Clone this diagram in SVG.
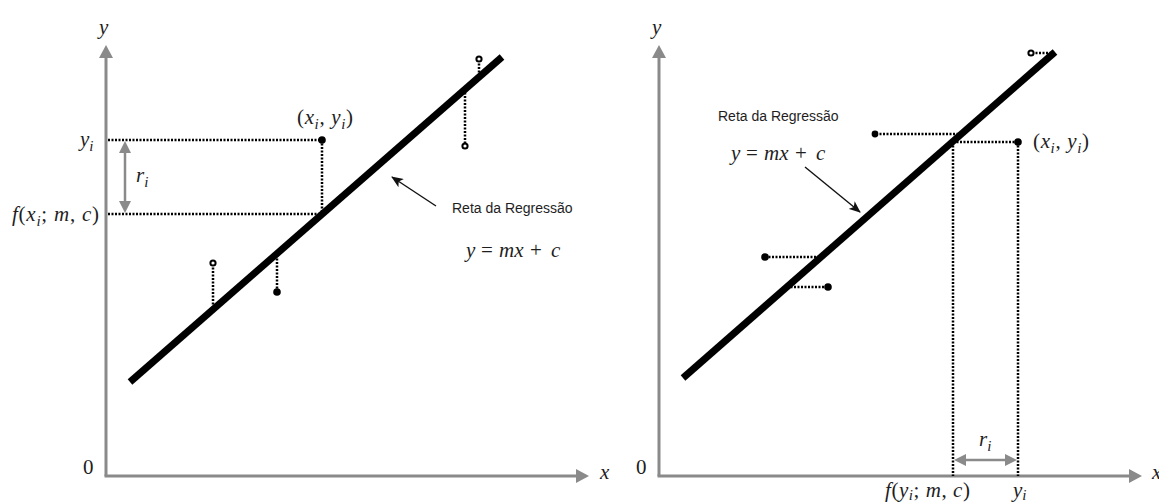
<svg xmlns="http://www.w3.org/2000/svg" width="1159" height="504" viewBox="0 0 1159 504">
<style>
.axis{stroke:#8a8a8a;stroke-width:3;fill:none}
.reg{stroke:#000;stroke-width:7;fill:none}
.dot{stroke:#000;stroke-width:2.5;stroke-dasharray:2 1.5;fill:none}
.dim{stroke:#8a8a8a;stroke-width:2.5;fill:none}
.ptr{stroke:#111;stroke-width:1.4;fill:none}
.m{font-family:"Liberation Serif","DejaVu Serif",serif;font-size:21px;fill:#1e1e1e}
.i{font-style:italic}
.s{font-size:15px}
.lbl{font-family:"Liberation Sans","DejaVu Sans",sans-serif;font-size:14px;fill:#1e1e1e}
.fill{fill:#000}
.open{fill:#fff;stroke:#000;stroke-width:2}
</style>
<defs>
<marker id="ah" markerWidth="12" markerHeight="10" refX="11" refY="5" orient="auto" markerUnits="userSpaceOnUse">
<path d="M0,0 L12,5 L0,10 L3,5 Z" fill="#111"/>
</marker>
</defs>

<g id="left-panel">
<g id="left-axes">
<line class="axis" x1="106" y1="476" x2="106" y2="58"/>
<polygon points="99,58 113,58 106,45" fill="#8a8a8a"/>
<line class="axis" x1="104.5" y1="476" x2="576" y2="476"/>
<polygon points="576,469 576,483 589,476" fill="#8a8a8a"/>
</g>
<g id="left-regression">
<line class="reg" x1="130" y1="382" x2="502" y2="57"/>
</g>
<g id="left-residuals">
<line class="dot" x1="108" y1="140" x2="322" y2="140"/>
<line class="dot" x1="108" y1="214" x2="322" y2="214"/>
<line class="dot" x1="322" y1="140" x2="322" y2="214"/>
<line class="dot" x1="479" y1="60" x2="479" y2="77"/>
<line class="dot" x1="465" y1="89" x2="465" y2="146"/>
<line class="dot" x1="213" y1="264" x2="213" y2="310"/>
<line class="dot" x1="277" y1="255" x2="277" y2="291"/>
</g>
<g id="left-points">
<circle class="fill" cx="322" cy="140" r="3.8"/>
<circle class="open" cx="479" cy="59" r="2.6"/>
<circle class="open" cx="465" cy="146" r="2.6"/>
<circle class="open" cx="213" cy="263" r="2.6"/>
<circle class="fill" cx="277" cy="292" r="3.8"/>
</g>
<g id="left-ri">
<line class="dim" x1="125" y1="153" x2="125" y2="201"/>
<polygon points="119,153 131,153 125,141" fill="#8a8a8a"/>
<polygon points="119,201 131,201 125,213" fill="#8a8a8a"/>
</g>
<g id="left-pointer">
<line class="ptr" x1="436" y1="206" x2="392" y2="177" marker-end="url(#ah)"/>
</g>
<g id="left-labels">
<text class="m i" x="99" y="34">y</text>
<text class="m" x="80" y="146"><tspan class="i">y</tspan><tspan class="i s" dy="5">i</tspan></text>
<text class="m" x="136" y="182"><tspan class="i">r</tspan><tspan class="i s" dy="5">i</tspan></text>
<text class="m" x="12" y="221" textLength="87" lengthAdjust="spacing"><tspan class="i">f</tspan>(<tspan class="i">x</tspan><tspan class="i s" dy="5">i</tspan><tspan dy="-5">; </tspan><tspan class="i">m</tspan>, <tspan class="i">c</tspan>)</text>
<text class="m" x="297" y="124" textLength="56" lengthAdjust="spacing">(<tspan class="i">x</tspan><tspan class="i s" dy="5">i</tspan><tspan dy="-5">, </tspan><tspan class="i">y</tspan><tspan class="i s" dy="5">i</tspan><tspan dy="-5">)</tspan></text>
<text class="lbl" x="452" y="213">Reta da Regressão</text>
<text class="m" y="257"><tspan class="i" x="466">y</tspan><tspan x="481">=</tspan><tspan class="i" x="499">mx</tspan><tspan x="530">+</tspan><tspan class="i" x="551">c</tspan></text>
<text class="m" x="83" y="474" font-size="17">0</text>
<text class="m i" x="600" y="479">x</text>
</g>
</g>

<g id="right-panel">
<g id="right-axes">
<line class="axis" x1="659" y1="476" x2="659" y2="58"/>
<polygon points="652,58 666,58 659,45" fill="#8a8a8a"/>
<line class="axis" x1="657.5" y1="476" x2="1129" y2="476"/>
<polygon points="1129,469 1129,483 1142,476" fill="#8a8a8a"/>
</g>
<g id="right-regression">
<line class="reg" x1="683" y1="378" x2="1055" y2="52"/>
</g>
<g id="right-residuals">
<line class="dot" x1="953" y1="142" x2="1018" y2="142"/>
<line class="dot" x1="953" y1="142" x2="953" y2="476"/>
<line class="dot" x1="1018" y1="142" x2="1018" y2="476"/>
<line class="dot" x1="876" y1="134" x2="962" y2="134"/>
<line class="dot" x1="1032" y1="53" x2="1054" y2="53"/>
<line class="dot" x1="765" y1="257" x2="820" y2="257"/>
<line class="dot" x1="787" y1="287" x2="828" y2="287"/>
</g>
<g id="right-points">
<circle class="fill" cx="1018" cy="142" r="3.8"/>
<circle class="fill" cx="875" cy="134" r="3.4"/>
<circle class="open" cx="1031" cy="53" r="2.6"/>
<circle class="fill" cx="765" cy="257" r="3.8"/>
<circle class="fill" cx="828" cy="287" r="3.8"/>
</g>
<g id="right-ri">
<line class="dim" x1="966" y1="460" x2="1005" y2="460"/>
<polygon points="966,454 966,466 954,460" fill="#8a8a8a"/>
<polygon points="1005,454 1005,466 1017,460" fill="#8a8a8a"/>
</g>
<g id="right-pointer">
<line class="ptr" x1="805" y1="167" x2="860" y2="212" marker-end="url(#ah)"/>
</g>
<g id="right-labels">
<text class="m i" x="652" y="34">y</text>
<text class="lbl" x="718" y="121">Reta da Regressão</text>
<text class="m" y="160"><tspan class="i" x="731">y</tspan><tspan x="746">=</tspan><tspan class="i" x="764">mx</tspan><tspan x="795">+</tspan><tspan class="i" x="816">c</tspan></text>
<text class="m" x="1033" y="148" textLength="56" lengthAdjust="spacing">(<tspan class="i">x</tspan><tspan class="i s" dy="5">i</tspan><tspan dy="-5">, </tspan><tspan class="i">y</tspan><tspan class="i s" dy="5">i</tspan><tspan dy="-5">)</tspan></text>
<text class="m" x="979" y="446"><tspan class="i">r</tspan><tspan class="i s" dy="5">i</tspan></text>
<text class="m" x="885" y="497" textLength="85" lengthAdjust="spacing"><tspan class="i">f</tspan>(<tspan class="i">y</tspan><tspan class="i s" dy="3">i</tspan><tspan dy="-3">; </tspan><tspan class="i">m</tspan>, <tspan class="i">c</tspan>)</text>
<text class="m" x="1013" y="497"><tspan class="i">y</tspan><tspan class="i s" dy="3">i</tspan></text>
<text class="m" x="636" y="474" font-size="17">0</text>
<text class="m i" x="1152" y="479">x</text>
</g>
</g>
</svg>
